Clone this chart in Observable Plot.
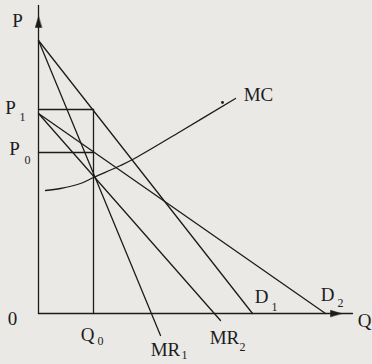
<!DOCTYPE html>
<html><head><meta charset="utf-8">
<script src="https://cdn.jsdelivr.net/npm/d3@7"></script>
<script src="https://cdn.jsdelivr.net/npm/@observablehq/plot@0.6"></script>
<style>html,body{margin:0;padding:0;background:#eae9e6;}</style>
</head><body><div id="chart"></div>
<script>
// Key values (Q, P)
const Q0 = 5.5;
const P1 = 20.4;
const P0 = 16.1;
// Demand and marginal revenue lines: [Q, P] endpoints
const D1 = [[0, 27.3], [21.4, 0]];
const MR1 = [[0, 27.3], [12.2, -2.2]];
const D2 = [[0, 20.0], [28.7, 0]];
const MR2 = [[0, 20.0], [18.2, -0.7]];
// Marginal cost curve points
const MC = [[0.7, 12.3], [2.2, 12.5], [4.2, 13.0], [5.5, 13.6], [8.2, 14.8], [9.6, 15.5], [14.2, 18.2], [19.7, 21.5]];
// Axes extents
const axisX = [[0, 0], [31.4, 0]];
const axisY = [[0, 0], [0, 30.8]];
// Labels: [text, Q, P]
const mainLabels = [
  ["P", -2.1, 29.3], ["P", -2.8, 20.6], ["P", -2.4, 16.5], ["0", -2.6, -0.5],
  ["Q", 4.9, -2.1], ["MR", 12.7, -3.6], ["MR", 18.6, -2.4],
  ["D", 22.3, 1.7], ["D", 28.9, 1.9], ["Q", 32.6, -0.7], ["MC", 22.0, 21.9]
];
const subLabels = [
  ["1", -1.6, 19.6], ["0", -1.1, 15.3], ["0", 6.2, -2.8], ["1", 14.6, -4.2],
  ["2", 20.4, -3.4], ["1", 23.6, 0.6], ["2", 30.2, 1.0]
];
const guides = [
  [[0, P1], [Q0, P1]],
  [[Q0, P1], [Q0, 0]],
  [[0, P0], [Q0, P0]]
];
const arrowHeads = [[0, 30.8, 0], [31.4, 0, 90]];

const ink = "#1c1c1c";
const triangle = {draw(ctx, l, r) { ctx.moveTo(0, 0); ctx.lineTo(-3.2, l); ctx.lineTo(3.2, l); ctx.closePath(); }};
const lineOpts = {x: d => d[0], y: d => d[1], stroke: ink, strokeWidth: 1.3};
const font = "Liberation Serif, Times New Roman, serif";

const chart = Plot.plot({
  width: 372, height: 364,
  marginLeft: 38, marginRight: 17, marginTop: 8, marginBottom: 51,
  x: {domain: [0, 31.7], axis: null},
  y: {domain: [0, 30.5], axis: null},
  style: {background: "#eae9e6", fontFamily: font, overflow: "visible"},
  marks: [
    ...guides.map(g => Plot.line(g, lineOpts)),
    Plot.line(D1, lineOpts),
    Plot.line(MR1, lineOpts),
    Plot.line(D2, lineOpts),
    Plot.line(MR2, lineOpts),
    Plot.line(MC, {...lineOpts, curve: "catmull-rom"}),
    Plot.dot([[18.4, 21.1]], {x: d => d[0], y: d => d[1], r: 1.4, fill: ink}),
    Plot.line(axisX, lineOpts),
    Plot.line(axisY, lineOpts),
    Plot.vector(arrowHeads, {x: d => d[0], y: d => d[1], rotate: d => d[2], length: 11, anchor: "end", shape: triangle, fill: ink, stroke: ink, strokeWidth: 0.5}),
    Plot.text(mainLabels, {x: d => d[1], y: d => d[2], text: d => d[0], fontSize: 19, fill: ink, fontFamily: font, textAnchor: "middle", lineAnchor: "middle"}),
    Plot.text(subLabels, {x: d => d[1], y: d => d[2], text: d => d[0], fontSize: 12, fill: ink, fontFamily: font, textAnchor: "middle", lineAnchor: "middle"})
  ]
});
document.getElementById("chart").append(chart);
</script>
</body></html>
